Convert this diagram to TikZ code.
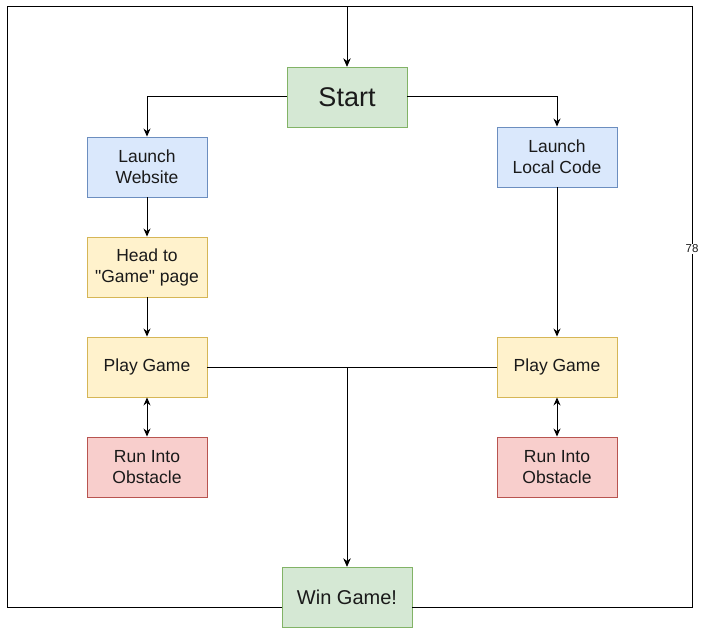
\documentclass[tikz,border=0pt]{standalone}
\usepackage{fontspec}
\setmainfont{Liberation Sans}[Ligatures=TeXOff]
\usetikzlibrary{arrows.meta}
\definecolor{gfill}{HTML}{D5E8D4}\definecolor{gdraw}{HTML}{82B366}
\definecolor{bfill}{HTML}{DAE8FC}\definecolor{bdraw}{HTML}{6C8EBF}
\definecolor{yfill}{HTML}{FFF2CC}\definecolor{ydraw}{HTML}{D6B656}
\definecolor{rfill}{HTML}{F8CECC}\definecolor{rdraw}{HTML}{B85450}
\definecolor{txt}{HTML}{1A1A1A}
\tikzset{
  box/.style={rectangle, minimum width=120pt, minimum height=60pt, inner sep=0pt,
    line width=0.9pt, text=txt, align=center, font=\fontsize{17.5}{21}\selectfont},
  gbox/.style={box, fill=gfill, draw=gdraw},
  bbox/.style={box, fill=bfill, draw=bdraw},
  ybox/.style={box, fill=yfill, draw=ydraw},
  rbox/.style={box, fill=rfill, draw=rdraw},
  conn/.style={line width=1pt, draw=black},
  arr/.style={conn, -{Stealth[length=8pt,width=7pt]}},
  darr/.style={conn, {Stealth[length=8pt,width=7pt]}-{Stealth[length=8pt,width=7pt]}},
  lbl/.style={fill=white, inner sep=1pt, text=txt, font=\fontsize{11.5}{13}\selectfont}
}
\begin{document}
\begin{tikzpicture}[x=1pt,y=-1pt]
\useasboundingbox (0,0) rectangle (701,628);
\node[gbox, font=\fontsize{27}{32}\selectfont] (start) at (347,97) {Start};
\node[bbox] (web) at (147,167) {Launch\\Website};
\node[ybox] (head) at (147,267) {Head to\\"Game" page};
\node[ybox] (playL) at (147,367) {Play Game};
\node[rbox] (obsL) at (147,467) {Run Into\\Obstacle};
\node[bbox] (local) at (557,157) {Launch\\Local Code};
\node[ybox] (playR) at (557,367) {Play Game};
\node[rbox] (obsR) at (557,467) {Run Into\\Obstacle};
\node[gbox, minimum width=130pt, font=\fontsize{20}{24}\selectfont] (win) at (347,597) {Win Game!};

\coordinate (wl) at (282,607);
\coordinate (wr) at (412,607);
\coordinate (bl) at (7,607);
\coordinate (tl) at (7,7);
\coordinate (tm) at (347,7);
\coordinate (tr) at (692,7);
\coordinate (br) at (692,607);

\draw[arr] (start.west) -| (web.north);
\draw[arr] (start.east) -| (local.north);
\draw[arr] (web) -- (head);
\draw[arr] (head) -- (playL);
\draw[arr] (local) -- (playR);
\draw[darr] (playL) -- (obsL);
\draw[darr] (playR) -- (obsR);
\draw[arr] (playL.east) -| (win.north);
\draw[arr] (playR.west) -| (win.north);
\draw[arr] (wl) -- (bl) -- (tl) -- (tm) -- (start.north);
\draw[arr] (wr) -- (br) -- node[lbl, pos=0.597] (n78) {78} (tr) -- (tm) -- (start.north);
\end{tikzpicture}
\end{document}
